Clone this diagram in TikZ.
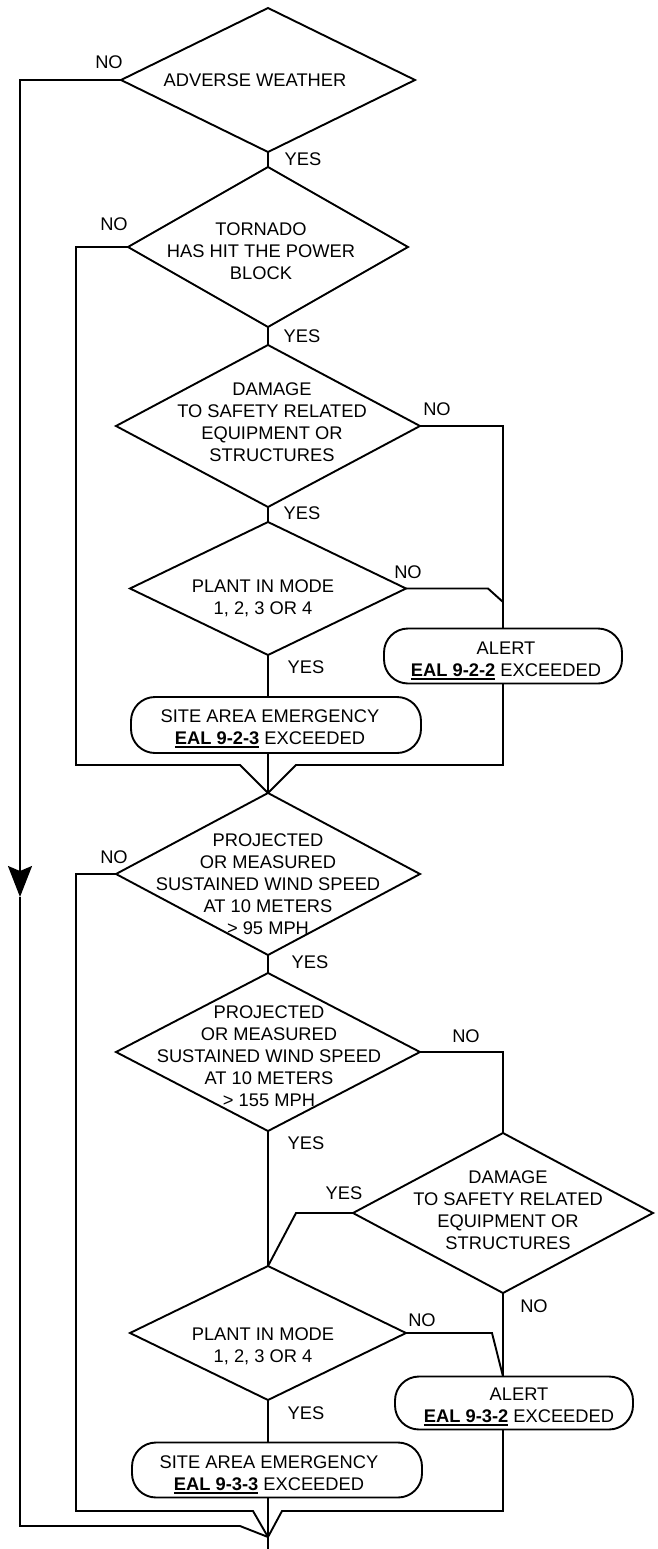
\documentclass[tikz,border=0pt]{standalone}
\usepackage{fontspec}
\setmainfont{Liberation Sans}
\usetikzlibrary{shapes.geometric,arrows.meta}

% bold EAL reference with a heavy underline
\newsavebox\ealbox
\newcommand\ealtag[1]{\sbox\ealbox{\bfseries #1}\rlap{\smash{\rule[-3.6pt]{\wd\ealbox}{2pt}}}\usebox\ealbox}

\tikzset{
  decision/.style 2 args={draw, shape=diamond, inner sep=0pt, outer sep=0pt,
    minimum width=#1, minimum height=#2},
  terminal/.style 2 args={draw, rectangle, rounded corners=24pt, inner sep=0pt,
    outer sep=0pt, minimum width=#1, minimum height=#2},
  txt/.style={align=center, inner sep=0pt},
  lbl/.style={inner sep=0pt},
  bigtip/.style={-{Stealth[length=31pt, width=24pt, inset=5pt]}}
}

\begin{document}
\begin{tikzpicture}[x=1pt, y=-1pt, line width=1.9pt,
  every node/.style={font=\fontsize{18.3}{22}\selectfont}]
\useasboundingbox (0,0) rectangle (657,1549);

% ---- first block: tornado
\node[decision={294}{144}] (d1) at (268,80) {};
\node[txt] (t1) at (255,80) {ADVERSE WEATHER};
\node[decision={280}{160}] (d2) at (268,247) {};
\node[txt] (t2) at (261,251) {TORNADO\\HAS HIT THE POWER\\BLOCK};
\node[decision={304}{162}] (d3) at (268,426) {};
\node[txt] (t3) at (272,422.5) {DAMAGE\\TO SAFETY RELATED\\EQUIPMENT OR\\STRUCTURES};
\node[decision={276}{133}] (d4) at (268,588.5) {};
\node[txt] (t4) at (263,598.5) {PLANT IN MODE\\1, 2, 3 OR 4};
\node[terminal={238}{55}] (a1) at (503,656) {};
\node[txt] (ta1) at (506,659) {ALERT\\\ealtag{EAL 9-2-2} EXCEEDED};
\node[terminal={290}{56}] (s1) at (276,725) {};
\node[txt] (ts1) at (270,727.5) {SITE AREA EMERGENCY\\\ealtag{EAL 9-2-3} EXCEEDED};

% ---- second block: sustained wind
\node[decision={304}{162}] (d5) at (268,874) {};
\node[txt] (t5) at (268,884.5) {PROJECTED\\OR MEASURED\\SUSTAINED WIND SPEED\\AT 10 METERS\\> 95 MPH};
\node[decision={304}{158}] (d6) at (268,1052) {};
\node[txt] (t6) at (269,1056) {PROJECTED\\OR MEASURED\\SUSTAINED WIND SPEED\\AT 10 METERS\\> 155 MPH};
\node[decision={300}{160}] (d7) at (503,1213) {};
\node[txt] (t7) at (508,1210) {DAMAGE\\TO SAFETY RELATED\\EQUIPMENT OR\\STRUCTURES};
\node[decision={276}{134}] (d8) at (268,1333) {};
\node[txt] (t8) at (263,1346.5) {PLANT IN MODE\\1, 2, 3 OR 4};
\node[terminal={238}{53}] (a2) at (514,1403) {};
\node[txt] (ta2) at (519,1405.5) {ALERT\\\ealtag{EAL 9-3-2} EXCEEDED};
\node[terminal={290}{55}] (s2) at (277,1470) {};
\node[txt] (ts2) at (269,1473) {SITE AREA EMERGENCY\\\ealtag{EAL 9-3-3} EXCEEDED};

% ---- routing points
\coordinate (ar)  at (20,897);
\coordinate (o2)  at (240,1526);
\coordinate (l1)  at (76,765);
\coordinate (m1l) at (240,765);
\coordinate (m1r) at (296,765);
\coordinate (m1)  at (d5.north);
\coordinate (n4)  at (488,588.5);
\coordinate (j4)  at (503,602);
\coordinate (l2)  at (76,1511);
\coordinate (m2l) at (253,1511);
\coordinate (m2r) at (282,1511);
\coordinate (m2)  at (268,1537);
\coordinate (k7)  at (296,1213);
\coordinate (n8)  at (492,1333);
\coordinate (bot) at (268,1549);

% ---- connectors
\draw[bigtip] (d1.west) -| (ar);
\draw (ar) |- (o2) -- (m2);
\draw (d1.south) -- (d2.north);
\draw (d2.west) -| (l1) -- (m1l) -- (m1);
\draw (d2.south) -- (d3.north);
\draw (d3.east) -| (a1.north);
\draw (d3.south) -- (d4.north);
\draw (d4.east) -- (n4) -- (j4);
\draw (d4.south) -- (d4.south |- s1.north);
\draw (a1.south) |- (m1r) -- (m1);
\draw (d5.north |- s1.south) -- (m1);
\draw (d5.west) -| (l2) -- (m2l) -- (m2);
\draw (d5.south) -- (d6.north);
\draw (d6.east) -| (d7.north);
\draw (d6.south) -- (d8.north);
\draw (d7.west) -- (k7) -- (d8.north);
\draw (d7.south) -- (d7.south |- a2.north);
\draw (d8.east) -- (n8) -- (d7.south |- a2.north);
\draw (d8.south) -- (d8.south |- s2.north);
\draw (d7.south |- a2.south) |- (m2r) -- (m2);
\draw (d8.south |- s2.south) -- (m2) -- (bot);

% ---- branch labels
\node[lbl] (no1)  at (109,62)   {NO};
\node[lbl] (yes1) at (303,159)  {YES};
\node[lbl] (no2)  at (114,224)  {NO};
\node[lbl] (yes2) at (302,336)  {YES};
\node[lbl] (no3)  at (437,409)  {NO};
\node[lbl] (yes3) at (302,513)  {YES};
\node[lbl] (no4)  at (408,572)  {NO};
\node[lbl] (yes4) at (306,667)  {YES};
\node[lbl] (no5)  at (114,857)  {NO};
\node[lbl] (yes5) at (310,962)  {YES};
\node[lbl] (no6)  at (466,1036) {NO};
\node[lbl] (yes6) at (306,1143) {YES};
\node[lbl] (yes7) at (344,1193) {YES};
\node[lbl] (no7)  at (534,1306) {NO};
\node[lbl] (no8)  at (422,1320) {NO};
\node[lbl] (yes8) at (306,1413) {YES};
\end{tikzpicture}
\end{document}
